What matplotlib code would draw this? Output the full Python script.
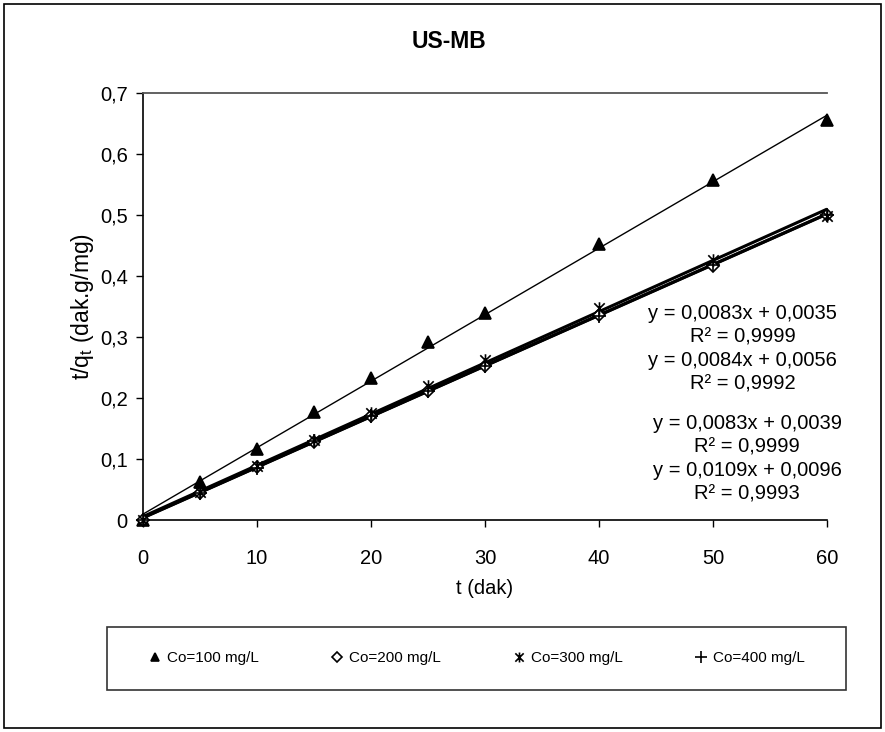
import numpy as np
import matplotlib.pyplot as plt
from matplotlib.patches import Rectangle
from matplotlib.path import Path

plt.rcParams['font.family'] = ['Liberation Sans', 'DejaVu Sans']
plt.rcParams['mathtext.fontset'] = 'custom'
plt.rcParams['mathtext.rm'] = 'Liberation Sans'

# contact time (dak)
t = [0, 5, 10, 15, 20, 25, 30, 40, 50, 60]

# t/qt for each initial dye concentration
tq_100 = [0, 0.063, 0.117, 0.177, 0.232, 0.292, 0.340, 0.453, 0.557, 0.656]
tq_200 = [0, 0.045, 0.087, 0.128, 0.170, 0.211, 0.252, 0.336, 0.417, 0.500]
tq_300 = [0, 0.046, 0.089, 0.131, 0.176, 0.219, 0.262, 0.347, 0.426, 0.499]
tq_400 = [0, 0.044, 0.086, 0.129, 0.171, 0.212, 0.253, 0.335, 0.418, 0.500]

labels = ['Co=100 mg/L', 'Co=200 mg/L', 'Co=300 mg/L', 'Co=400 mg/L']

# linear fits (pseudo second order), same order as labels
slopes = [0.0109, 0.0083, 0.0084, 0.0083]
intercepts = [0.0096, 0.0035, 0.0056, 0.0039]
r2 = [0.9993, 0.9999, 0.9992, 0.9999]

# where each fit equation is written (data coords, block centre)
eq_x = [53.0, 52.6, 52.6, 53.0]
eq_y = [0.062, 0.320, 0.243, 0.139]

# star marker: an x with a vertical bar
star = Path([(-1, -1), (1, 1), (-1, 1), (1, -1), (0, -1.2), (0, 1.2)],
            [Path.MOVETO, Path.LINETO] * 3)

markers = ['^', 'D', star, '+']
msizes = [8, 6, 9, 10]
fits_lw = [1.0, 2.2, 2.2, 2.2]


def comma(v):
    return f'{v:.4f}'.replace('.', ',')


W, H = 885, 732
fig = plt.figure(figsize=(W / 100, H / 100), dpi=100)
ax = fig.add_axes([143 / W, 1 - 520 / H, (827 - 143) / W, (520 - 93) / H])

series = [tq_100, tq_200, tq_300, tq_400]
handles = []
xx = np.array([0, 60])
for i, y in enumerate(series):
    ax.plot(xx, slopes[i] * xx + intercepts[i], color='black',
            lw=fits_lw[i], zorder=2, solid_capstyle='butt')
    face = 'white' if markers[i] == 'D' else 'black'
    h, = ax.plot(t, y, linestyle='none', marker=markers[i], ms=msizes[i],
                 mfc=face, mec='black', mew=1.2, clip_on=False, zorder=3)
    handles.append(h)
    ax.text(eq_x[i], eq_y[i],
            f'y = {comma(slopes[i])}x + {comma(intercepts[i])}\nR² = {comma(r2[i])}',
            ha='center', va='center', multialignment='center',
            fontsize=14.5, linespacing=1.3, zorder=4)

ax.set_xlim(0, 60)
ax.set_ylim(0, 0.7)
ax.set_xticks(range(0, 61, 10))
ax.set_yticks(np.arange(0, 0.71, 0.1))
ax.set_yticklabels(['0'] + [f'0,{k}' for k in range(1, 8)])
ax.tick_params(direction='out', length=5, width=1, labelsize=14.5, color='black')
ax.tick_params(axis='x', pad=16)
ax.tick_params(axis='y', pad=6)
ax.spines['right'].set_visible(False)
ax.spines['top'].set_color('#555555')
ax.spines['top'].set_linewidth(1.3)
for side in ['left', 'bottom']:
    ax.spines[side].set_color('black')
    ax.spines[side].set_linewidth(1.2)

ax.set_xlabel('t (dak)', fontsize=14.5, labelpad=8)
ax.set_ylabel(r't/q$_\mathregular{t}$ (dak.g/mg)', fontsize=16.5, labelpad=3)
fig.text(449 / W, 1 - 42 / H, 'US-MB', ha='center', va='center',
         fontsize=16.5, fontweight='bold')

# legend box and chart frame
fig.patches.append(Rectangle((107 / W, 1 - 690 / H), (846 - 107) / W, 63 / H,
                             transform=fig.transFigure, fill=False,
                             edgecolor='#333333', lw=1.2))
fig.patches.append(Rectangle((4 / W, 4 / H), (881 - 4) / W, (728 - 4) / H,
                             transform=fig.transFigure, fill=False,
                             edgecolor='black', lw=1.2))
fig.legend(handles, labels, loc='center', bbox_to_anchor=(476 / W, 1 - 658 / H),
           ncol=4, frameon=False, fontsize=11, handlelength=1,
           handletextpad=0.3, columnspacing=4.6, markerscale=0.8)

fig.savefig('out.png', dpi=100)
